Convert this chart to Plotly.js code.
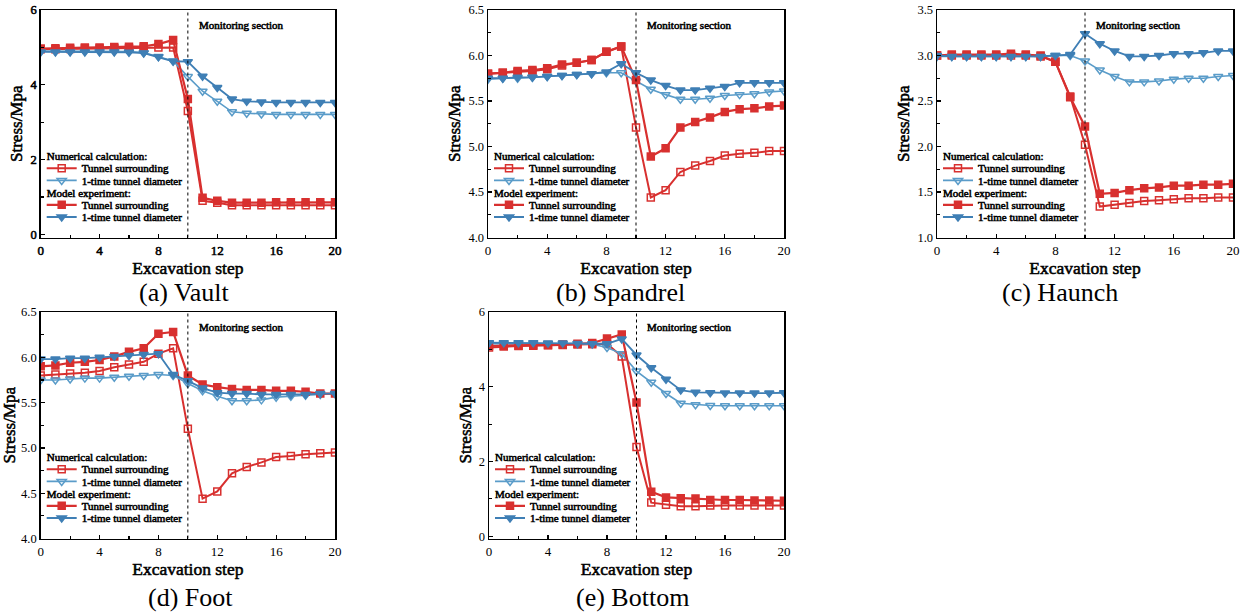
<!DOCTYPE html>
<html>
<head>
<meta charset="utf-8">
<script src="https://cdn.plot.ly/plotly-3.0.1.min.js"></script>
<style>html,body{margin:0;padding:0;background:#fff;}#chart{width:1245px;height:612px;}</style>
</head>
<body>
<div id="chart"></div>
<script>
// Excavation steps
const steps = [0,1,2,3,4,5,6,7,8,9,10,11,12,13,14,15,16,17,18,19,20];

// Series names
const groupNum = "Numerical calculation:";
const groupExp = "Model experiment:";
const nameTunnel = "Tunnel surrounding";
const nameDia = "1-time tunnel diameter";

// (a) Vault
const aNumTunnel = [4.95,4.95,4.96,4.97,4.97,4.98,4.98,4.99,5.00,5.00,3.30,0.90,0.85,0.78,0.78,0.78,0.78,0.78,0.78,0.78,0.78];
const aExpTunnel = [4.97,4.98,4.99,5.00,5.00,5.01,5.02,5.03,5.09,5.20,3.62,0.98,0.90,0.85,0.85,0.85,0.86,0.86,0.86,0.86,0.86];
const aNumDia    = [4.90,4.90,4.90,4.90,4.90,4.90,4.89,4.86,4.76,4.64,4.22,3.83,3.56,3.28,3.24,3.22,3.21,3.21,3.21,3.21,3.21];
const aExpDia    = [4.88,4.88,4.88,4.88,4.88,4.88,4.87,4.85,4.75,4.63,4.62,4.23,3.93,3.62,3.56,3.54,3.53,3.53,3.53,3.53,3.53];

// (b) Spandrel
const bNumTunnel = [5.80,5.81,5.82,5.83,5.85,5.89,5.92,5.95,6.04,6.10,5.21,4.44,4.52,4.72,4.79,4.84,4.90,4.92,4.93,4.95,4.95];
const bExpTunnel = [5.80,5.81,5.83,5.84,5.86,5.90,5.92,5.95,6.04,6.10,5.73,4.89,4.98,5.21,5.27,5.32,5.38,5.41,5.42,5.44,5.45];
const bNumDia    = [5.74,5.75,5.75,5.76,5.77,5.78,5.79,5.80,5.81,5.81,5.72,5.63,5.57,5.52,5.52,5.53,5.56,5.57,5.58,5.60,5.61];
const bExpDia    = [5.75,5.75,5.76,5.76,5.77,5.78,5.79,5.80,5.82,5.91,5.81,5.73,5.67,5.62,5.62,5.64,5.66,5.70,5.70,5.70,5.70];

// (c) Haunch
const cNumTunnel = [3.00,3.00,3.00,3.00,3.00,3.00,3.00,2.99,2.93,2.55,2.02,1.34,1.36,1.38,1.40,1.41,1.42,1.43,1.43,1.44,1.44];
const cExpTunnel = [3.00,3.01,3.01,3.01,3.01,3.02,3.01,3.00,2.93,2.54,2.22,1.48,1.49,1.52,1.54,1.55,1.57,1.57,1.58,1.58,1.59];
const cNumDia    = [2.99,2.99,2.99,2.99,2.99,2.99,2.99,2.99,3.00,3.00,2.94,2.84,2.77,2.71,2.71,2.72,2.74,2.75,2.75,2.77,2.78];
const cExpDia    = [3.00,2.99,2.99,2.99,2.99,2.99,2.99,2.99,3.00,3.01,3.24,3.13,3.05,2.99,2.99,3.00,3.02,3.02,3.03,3.05,3.05];

// (d) Foot
const dNumTunnel = [5.80,5.81,5.82,5.83,5.85,5.89,5.92,5.95,6.04,6.10,5.21,4.44,4.52,4.72,4.79,4.84,4.90,4.91,4.93,4.94,4.95];
const dExpTunnel = [5.90,5.91,5.94,5.95,5.97,6.01,6.06,6.10,6.26,6.28,5.80,5.70,5.67,5.65,5.64,5.64,5.63,5.63,5.62,5.60,5.60];
const dNumDia    = [5.75,5.75,5.76,5.77,5.77,5.78,5.79,5.80,5.81,5.80,5.71,5.63,5.57,5.52,5.52,5.53,5.56,5.57,5.58,5.59,5.60];
const dExpDia    = [5.98,5.98,5.99,5.99,6.00,6.01,6.02,6.03,6.04,5.81,5.74,5.66,5.61,5.60,5.60,5.59,5.59,5.59,5.59,5.60,5.60];

// (e) Bottom
const eNumTunnel = [5.05,5.08,5.09,5.10,5.11,5.12,5.13,5.14,5.15,4.81,2.39,0.90,0.84,0.80,0.80,0.82,0.82,0.82,0.82,0.82,0.82];
const eExpTunnel = [5.09,5.10,5.10,5.11,5.12,5.13,5.15,5.17,5.29,5.40,3.58,1.19,1.04,1.02,1.01,0.97,0.97,0.97,0.96,0.96,0.95];
const eNumDia    = [5.15,5.15,5.15,5.15,5.15,5.15,5.15,5.14,5.05,4.88,4.42,4.12,3.82,3.56,3.52,3.50,3.49,3.49,3.49,3.49,3.49];
const eExpDia    = [5.18,5.18,5.18,5.18,5.17,5.17,5.16,5.15,5.15,5.28,4.85,4.51,4.20,3.91,3.85,3.84,3.83,3.83,3.83,3.83,3.84];

// Panel definitions
const panelCaptions = ["(a) Vault","(b) Spandrel","(c) Haunch","(d) Foot","(e) Bottom"];
const monitorLabel = "Monitoring section";
const yRanges = [[-0.08,6],[4.0,6.5],[1.0,3.5],[4.0,6.5],[-0.06,6]];
const yDticks = [2,0.5,0.5,0.5,2];
const panelData = [
  [aNumTunnel,aNumDia,aExpTunnel,aExpDia],
  [bNumTunnel,bNumDia,bExpTunnel,bExpDia],
  [cNumTunnel,cNumDia,cExpTunnel,cExpDia],
  [dNumTunnel,dNumDia,dExpTunnel,dExpDia],
  [eNumTunnel,eNumDia,eExpTunnel,eExpDia]
];

const W = 1245, H = 612;
// pixel boxes [left,right,top,bottom]
const boxes = [
  [40.7,335,10,237.5],
  [488,784,10,237.5],
  [937,1233,10,237.5],
  [40.7,335,312,538.5],
  [489,784,312,538.5]
];
// caption centres in pixels
const captionPos = [[185,292],[620,292],[1060,292],[190,597],[632,597]];

const RED = "#d8302f";
const BLUE_N = "#5a9cc9";
const BLUE_E = "#3f7fb5";
const serif = "Liberation Serif";
const bf = (size) => ({family: serif, size: size, color: "#000"});

const traces = [];
const layout = {
  width: W, height: H,
  margin: {l:0,r:0,t:0,b:0},
  paper_bgcolor: "#ffffff",
  plot_bgcolor: "#ffffff",
  font: {family: serif, color: "#000"},
  shapes: [],
  annotations: []
};

const styles = [
  {name:nameTunnel, grp:"num", gt:groupNum, color:RED, sym:"square-open", size:7, lw:2},
  {name:nameDia, grp:"num", gt:groupNum, color:BLUE_N, sym:"triangle-down-open", size:8, lw:1.6},
  {name:nameTunnel, grp:"exp", gt:groupExp, color:RED, sym:"square", size:7, lw:2.2},
  {name:nameDia, grp:"exp", gt:groupExp, color:BLUE_E, sym:"triangle-down", size:8, lw:1.8}
];

panelData.forEach((series, p) => {
  const n = p + 1;
  const xa = n === 1 ? "x" : "x" + n;
  const ya = n === 1 ? "y" : "y" + n;
  const lg = n === 1 ? "legend" : "legend" + n;
  const [l, r, t, b] = boxes[p];
  series.forEach((vals, k) => {
    const s = styles[k];
    traces.push({
      type: "scatter", mode: "lines+markers",
      x: steps, y: vals, xaxis: xa, yaxis: ya,
      name: s.name, legend: lg,
      legendgroup: s.grp + n,
      legendgrouptitle: {text: s.gt, font: bf(11)},
      line: {color: s.color, width: s.lw},
      marker: {symbol: s.sym, size: s.size, color: s.color, line: {color: s.color, width: 1.5}}
    });
  });
  const axKey = n === 1 ? "xaxis" : "xaxis" + n;
  const ayKey = n === 1 ? "yaxis" : "yaxis" + n;
  layout[axKey] = {
    domain: [l / W, r / W], anchor: ya,
    range: [0, 20], dtick: 4, tick0: 0,
    ticks: "inside", ticklen: 4, tickwidth: 1.2, tickcolor: "#000",
    minor: {dtick: 2, ticks: "inside", ticklen: 3, tickcolor: "#000", showgrid: false},
    showline: true, mirror: true, linecolor: "#000", linewidth: 1.5,
    showgrid: false, zeroline: false,
    tickfont: bf(13),
    title: {text: "Excavation step", font: bf(17.5), standoff: 0}
  };
  layout[ayKey] = {
    domain: [1 - b / H, 1 - t / H], anchor: xa,
    range: yRanges[p], dtick: yDticks[p],
    ticks: "inside", ticklen: 4, tickwidth: 1.2, tickcolor: "#000",
    minor: {dtick: yDticks[p] / 2, ticks: "inside", ticklen: 3, tickcolor: "#000", showgrid: false},
    showline: true, mirror: true, linecolor: "#000", linewidth: 1.5,
    showgrid: false, zeroline: false,
    tickformat: yDticks[p] < 1 ? ".1f" : "d",
    tickfont: bf(12.5),
    title: {text: "Stress/Mpa", font: bf(17), standoff: 3}
  };
  layout[lg] = {
    x: (l + 1) / W, y: 1 - (b - 3) / H, xanchor: "left", yanchor: "bottom",
    xref: "paper", yref: "paper",
    bgcolor: "rgba(0,0,0,0)", borderwidth: 0,
    traceorder: "grouped", tracegroupgap: 0, itemwidth: 30,
    font: bf(11)
  };
  layout.shapes.push({
    type: "line", xref: xa, yref: ya + " domain",
    x0: 10, x1: 10, y0: 0, y1: 1,
    line: {color: "#000", width: 1, dash: "dot"}
  });
  layout.annotations.push({
    xref: xa, yref: ya + " domain", x: 10.6, y: 0.935,
    xanchor: "left", yanchor: "middle", showarrow: false,
    text: monitorLabel,
    font: bf(11)
  });
  layout.annotations.push({
    xref: "paper", yref: "paper",
    x: captionPos[p][0] / W, y: 1 - captionPos[p][1] / H,
    xanchor: "center", yanchor: "middle", showarrow: false,
    text: panelCaptions[p],
    font: {family: serif, size: 26, color: "#000"}
  });
});

function parseT(el) {
  const m = /translate\(\s*([-\d.e]+)[ ,]+([-\d.e]+)\s*\)/.exec(el.getAttribute("transform") || "");
  return m ? {x: parseFloat(m[1]), y: parseFloat(m[2])} : {x: 0, y: 0};
}

// Tighten legend row spacing to match the compact legend of the source figure
function compactLegends(gd) {
  const ROW = 12.2;
  gd.querySelectorAll("g.infolayer > g").forEach(leg => {
    const cls = leg.getAttribute("class") || "";
    if (!/^legend\d*$/.test(cls)) return;
    const items = [];
    leg.querySelectorAll("g.groups").forEach(g => {
      const gy = parseT(g).y;
      g.querySelectorAll("g.traces").forEach(t => {
        const tt = parseT(t);
        items.push({el: t, x: tt.x, y: gy + tt.y});
      });
      g.setAttribute("transform", "translate(0,0)");
    });
    items.sort((a, b) => a.y - b.y);
    if (!items.length) return;
    const last = items[items.length - 1].y - 3;
    items.forEach((it, i) => {
      const ny = last - (items.length - 1 - i) * ROW;
      it.el.setAttribute("transform", "translate(" + it.x + "," + ny + ")");
    });
  });
}

// Embolden serif text (the bold serif face is not installed): thin stroke of the same colour
function emboldenText(gd) {
  const sel = [
    ".xtick text", ".ytick text",
    "g[class^='g-xtitle'] text", "g[class^='g-x'][class$='title'] text",
    "g[class^='g-y'][class$='title'] text",
    "g.infolayer g.groups text"
  ].join(",");
  const els = new Set(gd.querySelectorAll(sel));
  gd.querySelectorAll("g.annotation text").forEach(t => {
    if (t.textContent === monitorLabel) els.add(t);
  });
  els.forEach(t => {
    t.style.stroke = "#000";
    t.style.strokeWidth = "0.55px";
    t.style.paintOrder = "stroke";
  });
}

Plotly.newPlot("chart", traces, layout, {displayModeBar: false, staticPlot: true})
  .then(gd => { compactLegends(gd); emboldenText(gd); });
</script>
</body>
</html>
